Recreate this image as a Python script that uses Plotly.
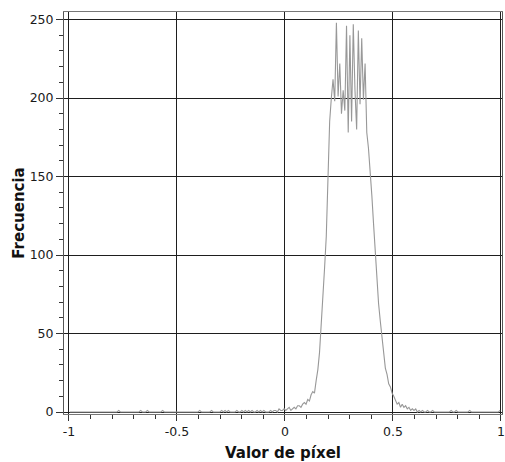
import plotly.graph_objects as go

# Histogram: 256 bins over [-1, 1]
bin_start = -1.0
bin_end = 1.0
n_bins = 256

counts = [
    0, 0, 0, 0, 0, 0, 0, 0, 0, 0,
    0, 0, 0, 0, 0, 0, 0, 0, 0, 0,
    0, 0, 0, 0, 0, 0, 0, 0, 0, 1,
    0, 0, 0, 0, 0, 0, 0, 0, 0, 0,
    0, 0, 1, 0, 0, 0, 1, 0, 0, 0,
    0, 0, 0, 0, 0, 1, 0, 0, 0, 0,
    0, 0, 0, 0, 0, 0, 0, 0, 0, 0,
    0, 0, 0, 0, 0, 0, 0, 1, 0, 0,
    0, 0, 0, 0, 1, 0, 0, 0, 0, 0,
    1, 0, 1, 0, 1, 0, 0, 0, 0, 1,
    0, 0, 1, 0, 1, 0, 1, 0, 1, 0,
    0, 1, 0, 1, 0, 1, 0, 0, 0, 1,
    0, 1, 1, 0, 2, 1, 1, 2, 1, 2,
    3, 1, 2, 3, 2, 4, 4, 3, 5, 6,
    5, 8, 7, 11, 13, 12, 20, 27, 38, 55,
    70, 92, 112, 145, 185, 200, 212, 198, 248, 201,
    222, 190, 205, 192, 246, 178, 240, 185, 247, 205,
    180, 243, 196, 238, 199, 222, 178, 168, 155, 138,
    120, 100, 84, 69, 58, 49, 38, 28, 24, 18,
    16, 12, 10, 7, 5, 6, 3, 5, 3, 4,
    2, 3, 1, 2, 1, 2, 0, 1, 0, 1,
    0, 0, 1, 0, 0, 1, 0, 0, 0, 0,
    0, 0, 0, 0, 0, 0, 1, 0, 0, 1,
    0, 0, 0, 0, 0, 0, 0, 1, 0, 0,
    0, 0, 0, 0, 0, 0, 0, 0, 0, 0,
    0, 0, 0, 0, 0, 1,
]

bin_w = (bin_end - bin_start) / n_bins
centers = [bin_start + (i + 0.5) * bin_w for i in range(n_bins)]

x_ticks = [-1, -0.5, 0, 0.5, 1]
x_tick_labels = ["-1", "-0.5", "0", "0.5", "1"]
y_ticks = [0, 50, 100, 150, 200, 250]
y_tick_labels = ["0", "50", "100", "150", "200", "250"]

font_family = "DejaVu Sans"

fig = go.Figure()
fig.add_trace(go.Scatter(
    x=centers, y=counts, mode="lines",
    line=dict(color="#989898", width=1.1),
    hoverinfo="skip", showlegend=False,
))

fig.update_layout(
    width=505, height=462,
    margin=dict(l=64, r=3, t=12, b=48, autoexpand=False),
    paper_bgcolor="white", plot_bgcolor="white",
    font=dict(family=font_family, size=12, color="#1a1a1a"),
)

fig.update_xaxes(
    automargin=False,
    range=[-1.023, 1.005],
    tickmode="array", tickvals=x_ticks, ticktext=x_tick_labels,
    ticks="outside", ticklen=6, tickwidth=1, tickcolor="#333",
    minor=dict(dtick=0.1, ticks="outside", ticklen=4, tickcolor="#333", showgrid=False),
    showgrid=True, gridcolor="#1e1e1e", gridwidth=1,
    zeroline=False,
    showline=True, linecolor="#777", linewidth=1, mirror=True,
    tickfont=dict(size=12.5, family=font_family),
    title=dict(text="<b>Valor de píxel</b>", font=dict(size=15, family=font_family, color="#111"), standoff=9),
)
fig.update_yaxes(
    automargin=False,
    range=[-1.27, 254.8],
    tickmode="array", tickvals=y_ticks, ticktext=y_tick_labels,
    ticks="outside", ticklen=7, tickwidth=1, tickcolor="#333",
    minor=dict(dtick=10, ticks="outside", ticklen=4, tickcolor="#333", showgrid=False),
    showgrid=True, gridcolor="#1e1e1e", gridwidth=1,
    zeroline=False,
    showline=True, linecolor="#555", linewidth=1, mirror=True,
    tickfont=dict(size=12.5, family=font_family),
    title=dict(text="<b>Frecuencia</b>", font=dict(size=15, family=font_family, color="#111"), standoff=1),
)

fig.write_html("out.html")
